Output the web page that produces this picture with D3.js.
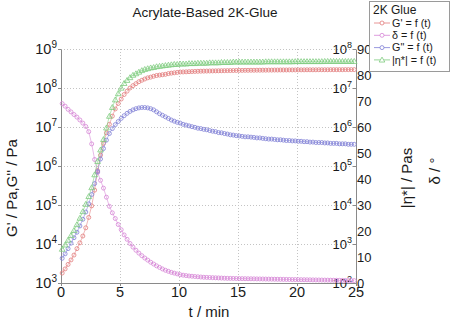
<!DOCTYPE html>
<html><head><meta charset="utf-8">
<script src="https://cdn.jsdelivr.net/npm/d3@7"></script>
<style>body{margin:0;background:#fff}svg{display:block;font-family:"Liberation Sans",Arial,sans-serif}</style>
</head><body><svg id="c" width="451" height="322"></svg>
<script>
// time / min
const time=[0.1,0.35,0.6,0.85,1.1,1.35,1.6,1.85,2.1,2.35,
2.6,2.85,3.1,3.35,3.6,3.85,4.1,4.35,4.6,4.85,
5.1,5.35,5.6,5.85,6.1,6.35,6.6,6.85,7.1,7.35,
7.6,7.85,8.1,8.35,8.6,8.85,9.1,9.35,9.6,9.85,
10.1,10.35,10.6,10.85,11.1,11.35,11.6,11.85,12.1,12.35,
12.6,12.85,13.1,13.35,13.6,13.85,14.1,14.35,14.6,14.85,
15.1,15.35,15.6,15.85,16.1,16.35,16.6,16.85,17.1,17.35,
17.6,17.85,18.1,18.35,18.6,18.85,19.1,19.35,19.6,19.85,
20.1,20.35,20.6,20.85,21.1,21.35,21.6,21.85,22.1,22.35,
22.6,22.85,23.1,23.35,23.6,23.85,24.1,24.35,24.6,24.85];
// G' / Pa
const gPrime=[1.8e3,2.3e3,3.0e3,3.9e3,5.2e3,7.6e3,1.07e4,1.6e4,2.6e4,4.8e4,
9.5e4,2.4e5,7.6e5,1.9e6,3.8e6,7.1e6,1.17e7,1.9e7,2.9e7,4.0e7,
5.2e7,6.8e7,8.3e7,1.0e8,1.15e8,1.29e8,1.45e8,1.58e8,1.7e8,1.82e8,
1.9e8,2.0e8,2.09e8,2.14e8,2.19e8,2.24e8,2.34e8,2.4e8,2.45e8,2.51e8,
2.57e8,2.58e8,2.6e8,2.62e8,2.64e8,2.66e8,2.68e8,2.7e8,2.71e8,2.72e8,
2.73e8,2.74e8,2.75e8,2.76e8,2.77e8,2.78e8,2.79e8,2.8e8,2.81e8,2.82e8,
2.83e8,2.83e8,2.84e8,2.84e8,2.85e8,2.85e8,2.86e8,2.86e8,2.87e8,2.87e8,
2.88e8,2.88e8,2.89e8,2.89e8,2.9e8,2.9e8,2.9e8,2.91e8,2.91e8,2.91e8,
2.92e8,2.92e8,2.92e8,2.93e8,2.93e8,2.93e8,2.93e8,2.94e8,2.94e8,2.94e8,
2.94e8,2.95e8,2.95e8,2.95e8,2.95e8,2.95e8,2.96e8,2.96e8,2.96e8,2.96e8];
// delta / deg
const delta=[69,68,66.8,65.8,64.8,63.8,62.7,61.5,60.2,58.2,
53.5,47.5,42.5,39.5,36.5,33,29.5,27,24.8,22.5,
20.5,18.5,16.8,15.2,13.8,12.6,11.5,10.5,9.6,8.8,
8.0,7.3,6.6,6.0,5.4,4.9,4.5,4.1,3.8,3.5,
3.2,3.0,2.85,2.7,2.6,2.5,2.4,2.3,2.2,2.15,
2.1,2.05,2.0,1.95,1.9,1.85,1.8,1.78,1.75,1.72,
1.7,1.68,1.66,1.64,1.62,1.6,1.58,1.56,1.54,1.52,
1.5,1.48,1.46,1.44,1.42,1.4,1.38,1.36,1.34,1.32,
1.3,1.28,1.26,1.24,1.22,1.2,1.18,1.16,1.14,1.12,
1.1,1.08,1.06,1.04,1.02,1.0,0.98,0.96,0.94,0.92];
// G'' / Pa
const gDouble=[4.3e3,5.6e3,7.6e3,1.05e4,1.45e4,2.0e4,2.9e4,4.3e4,6.6e4,1.07e5,
1.86e5,3.55e5,7.2e5,1.51e6,2.8e6,4.6e6,6.8e6,9.1e6,1.15e7,1.38e7,
1.66e7,1.95e7,2.24e7,2.51e7,2.75e7,2.95e7,3.09e7,3.16e7,3.16e7,3.09e7,
2.95e7,2.75e7,2.45e7,2.19e7,2.0e7,1.82e7,1.66e7,1.51e7,1.41e7,1.32e7,
1.26e7,1.17e7,1.12e7,1.07e7,1.02e7,9.8e6,9.3e6,9.1e6,8.7e6,8.5e6,
8.1e6,7.8e6,7.6e6,7.2e6,7.1e6,6.8e6,6.6e6,6.3e6,6.2e6,6.0e6,
5.9e6,5.75e6,5.6e6,5.6e6,5.5e6,5.4e6,5.25e6,5.25e6,5.1e6,5.0e6,
4.9e6,4.9e6,4.8e6,4.7e6,4.7e6,4.6e6,4.5e6,4.5e6,4.4e6,4.4e6,
4.3e6,4.3e6,4.2e6,4.2e6,4.1e6,4.1e6,4.0e6,4.0e6,4.0e6,3.9e6,
3.9e6,3.8e6,3.8e6,3.8e6,3.7e6,3.7e6,3.7e6,3.6e6,3.6e6,3.6e6];
// |eta*| / Pas
const etaStar=[7.4e2,9.5e2,1.26e3,1.66e3,2.24e3,3.16e3,4.6e3,6.8e3,1.05e4,1.66e4,
2.8e4,6.0e4,1.32e5,2.6e5,4.8e5,9.5e5,1.9e6,3.2e6,5.0e6,7.2e6,
1.0e7,1.32e7,1.58e7,1.86e7,2.14e7,2.34e7,2.57e7,2.82e7,3.02e7,3.16e7,
3.31e7,3.39e7,3.55e7,3.63e7,3.72e7,3.8e7,3.89e7,3.98e7,4.07e7,4.07e7,
4.17e7,4.17e7,4.17e7,4.27e7,4.27e7,4.27e7,4.37e7,4.37e7,4.37e7,4.37e7,
4.47e7,4.47e7,4.47e7,4.47e7,4.57e7,4.57e7,4.57e7,4.57e7,4.68e7,4.68e7,
4.68e7,4.68e7,4.68e7,4.68e7,4.68e7,4.68e7,4.68e7,4.68e7,4.68e7,4.75e7,
4.75e7,4.75e7,4.75e7,4.75e7,4.75e7,4.75e7,4.75e7,4.75e7,4.75e7,4.8e7,
4.8e7,4.8e7,4.8e7,4.8e7,4.8e7,4.8e7,4.8e7,4.8e7,4.8e7,4.85e7,
4.85e7,4.85e7,4.85e7,4.85e7,4.85e7,4.85e7,4.85e7,4.85e7,4.85e7,4.85e7];

const xTicks=[0,5,10,15,20,25];
const gTickExp=[3,4,5,6,7,8,9];
const etaTickExp=[2,3,4,5,6,7,8];
const deltaTicks=[0,10,20,30,40,50,60,70,80,90];
const chartTitle="Acrylate-Based 2K-Glue";
const legendTitle="2K Glue";
const seriesNames=["G' = f (t)","δ = f (t)",'G" = f (t)',"|η*| = f (t)"];
const seriesColors=["#e27c7c","#d585d5","#8080d6","#7dcc7d"];

const svg=d3.select("#c");
const L=61,R=356,T=49,B=283;
const x=d3.scaleLinear().domain([0,25]).range([L,R]);
const yG=d3.scaleLog().domain([1e3,1e9]).range([B,T]);
const yEta=d3.scaleLog().domain([1e2,1e8]).range([B,T]);
const yD=d3.scaleLinear().domain([0,90]).range([B,T]);
const axisCol="#8a8a8a", txtCol="#1a1a1a";

// grid
const grid=svg.append("g").attr("stroke","#c4c4c4").attr("stroke-dasharray","1,2").attr("stroke-width",1);
grid.selectAll("line.v").data(xTicks.filter(t=>t>0&&t<25)).join("line")
  .attr("x1",d=>Math.round(x(d))+0.5).attr("x2",d=>Math.round(x(d))+0.5).attr("y1",T).attr("y2",B);
grid.selectAll("line.h").data(gTickExp.filter(e=>e>3)).join("line")
  .attr("y1",d=>Math.round(yG(10**d))+0.5).attr("y2",d=>Math.round(yG(10**d))+0.5).attr("x1",L).attr("x2",R);

// axes
const ax=svg.append("g");
ax.append("g").attr("transform",`translate(0,${B})`)
  .call(d3.axisBottom(x).tickValues(xTicks).tickFormat("").tickSize(3).tickSizeOuter(0));
ax.append("g").attr("transform",`translate(${L},0)`)
  .call(d3.axisLeft(yG).tickValues(gTickExp.map(e=>10**e)).tickFormat("").tickSize(3).tickSizeOuter(0));
ax.append("g").attr("transform",`translate(${R},0)`)
  .call(d3.axisLeft(yEta).tickValues(etaTickExp.map(e=>10**e)).tickFormat("").tickSize(3).tickSizeOuter(0));
ax.selectAll("path,line").attr("stroke",axisCol);

// tick labels
const tl=svg.append("g").attr("fill",txtCol);
tl.selectAll("text.x").data(xTicks).join("text").attr("x",d=>x(d)).attr("y",297)
  .attr("text-anchor","middle").attr("font-size",14.5).text(d=>d);
function supLabel(sel,ssz,dy){
  sel.text(null);
  sel.append("tspan").text("10");
  sel.append("tspan").attr("font-size",ssz).attr("dy",dy).text(d=>d);
}
tl.selectAll("text.gl").data(gTickExp).join("text").attr("x",57).attr("y",d=>yG(10**d)+5)
  .attr("text-anchor","end").attr("font-size",14.5).call(s=>supLabel(s,10,-6));
tl.selectAll("text.el").data(etaTickExp).join("text").attr("x",352).attr("y",d=>yEta(10**d)+4.5)
  .attr("text-anchor","end").attr("font-size",13).call(s=>supLabel(s,9,-5.5));
tl.selectAll("text.dl").data(deltaTicks).join("text").attr("x",357).attr("y",d=>yD(d)+4.5)
  .attr("text-anchor","start").attr("font-size",13).text(d=>d);

// axis titles
svg.append("text").attr("x",209).attr("y",317).attr("text-anchor","middle").attr("font-size",15).attr("fill",txtCol).text("t / min");
svg.append("text").attr("transform","translate(17,188) rotate(-90)").attr("text-anchor","middle").attr("font-size",15).attr("fill",txtCol).text("G' / Pa,G'' / Pa");
svg.append("text").attr("transform","translate(412,178) rotate(-90)").attr("text-anchor","middle").attr("font-size",15).attr("fill",txtCol).text("|η*| / Pas");
svg.append("text").attr("transform","translate(440,171) rotate(-90)").attr("text-anchor","middle").attr("font-size",15).attr("fill",txtCol).text("δ / °");
svg.append("text").attr("x",205).attr("y",17).attr("text-anchor","middle").attr("font-size",13.5).attr("fill",txtCol).text(chartTitle);

// series
const series=[
  {vals:gPrime,y:yG,col:seriesColors[0],sym:"c"},
  {vals:delta,y:yD,col:seriesColors[1],sym:"c"},
  {vals:gDouble,y:yG,col:seriesColors[2],sym:"c"},
  {vals:etaStar,y:yEta,col:seriesColors[3],sym:"t"}
];
const tri=d3.symbol().type(d3.symbolTriangle).size(14);
series.forEach(s=>{
  const pts=time.map((t,i)=>[x(t),s.y(s.vals[i])]);
  const g=svg.append("g");
  g.append("path").attr("d",d3.line()(pts)).attr("fill","none").attr("stroke",s.col).attr("stroke-width",0.7).attr("stroke-opacity",0.8);
  if(s.sym==="c"){
    g.selectAll("circle").data(pts).join("circle").attr("cx",d=>d[0]).attr("cy",d=>d[1]).attr("r",2)
      .attr("fill","none").attr("stroke",s.col).attr("stroke-width",0.8);
  } else {
    g.selectAll("path.m").data(pts).join("path").attr("class","m").attr("d",tri)
      .attr("transform",d=>`translate(${d[0]},${d[1]+0.5})`).attr("fill","none").attr("stroke",s.col).attr("stroke-width",0.8);
  }
});

// legend
const lg=svg.append("g");
lg.append("rect").attr("x",369.5).attr("y",1.5).attr("width",80).attr("height",70).attr("fill","#fff").attr("stroke","#9a9a9a");
lg.append("text").attr("x",373).attr("y",14).attr("font-size",12).attr("fill",txtCol).text(legendTitle);
seriesNames.forEach((n,i)=>{
  const yy=23+i*12.3;
  lg.append("line").attr("x1",374).attr("x2",390).attr("y1",yy).attr("y2",yy).attr("stroke",seriesColors[i]).attr("stroke-width",0.8);
  if(i<3) lg.append("circle").attr("cx",382).attr("cy",yy).attr("r",2).attr("fill","#fff").attr("stroke",seriesColors[i]).attr("stroke-width",0.8);
  else lg.append("path").attr("d",tri).attr("transform",`translate(382,${yy+0.5})`).attr("fill","#fff").attr("stroke",seriesColors[i]).attr("stroke-width",0.8);
  lg.append("text").attr("x",392).attr("y",yy+3.8).attr("font-size",10.8).attr("fill",txtCol).text(n);
});
</script></body></html>
